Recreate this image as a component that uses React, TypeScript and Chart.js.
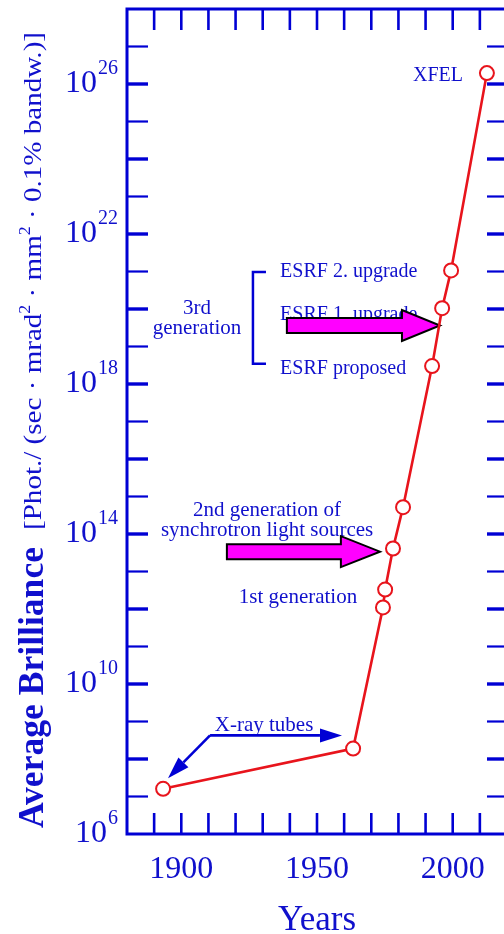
import React, { useEffect, useRef } from 'react';
import { Chart, registerables } from 'chart.js';

Chart.register(...registerables);

// ---- data ----
const years = [1893.3, 1963.3, 1974.3, 1975.1, 1978.0, 1981.7, 1992.4, 1996.1, 1999.4, 2012.6];
const brilliance = [1.6e7, 1.9e8, 1.1e12, 3.3e12, 4.1e13, 5.2e14, 3.0e18, 1.05e20, 1.07e21, 1.95e26];

const xTickYears = [1890, 1900, 1910, 1920, 1930, 1940, 1950, 1960, 1970, 1980, 1990, 2000, 2010];
const xLabelYears = [1900, 1950, 2000];
const yTickExps = [7, 8, 9, 10, 11, 12, 13, 14, 15, 16, 17, 18, 19, 20, 21, 22, 23, 24, 25, 26, 27];
const yLabelExps = [6, 10, 14, 18, 22, 26];

// annotation texts, anchored in data coordinates (year, log10 brilliance)
const noteTexts = [
  { t: 'XFEL', yr: 2003.8, e: 26.09, align: 'right', fs: 20 },
  { t: 'ESRF 2. upgrade', yr: 1936.4, e: 20.85, align: 'left', fs: 20 },
  { t: 'ESRF 1. upgrade', yr: 1936.4, e: 19.71, align: 'left', fs: 20 },
  { t: 'ESRF proposed', yr: 1936.4, e: 18.28, align: 'left', fs: 20 },
  { t: '3rd', yr: 1905.8, e: 19.87, align: 'center', fs: 21 },
  { t: 'generation', yr: 1905.8, e: 19.34, align: 'center', fs: 21 },
  { t: '2nd generation of', yr: 1931.6, e: 14.48, align: 'center', fs: 21 },
  { t: 'synchrotron light sources', yr: 1931.6, e: 13.94, align: 'center', fs: 21 },
  { t: '1st generation', yr: 1943.0, e: 12.16, align: 'center', fs: 21 },
  { t: 'X-ray tubes', yr: 1930.5, e: 8.76, align: 'center', fs: 21 },
];
const magentaArrows = [
  { from: 1938.9, base: 1981.3, tip: 1995.3, e: 19.56 },
  { from: 1916.8, base: 1958.8, tip: 1973.2, e: 13.53 },
];
const blueArrows = [
  { from: [1910.6, 8.63], to: [1959.2, 8.63] },
  { from: [1910.6, 8.63], to: [1895.1, 7.49] },
];
const bracket = { yr: 1926.4, yrEnd: 1931.2, eTop: 20.99, eBottom: 18.54 };

const BLUE = '#0000d4';
const TEXT_BLUE = '#1010cc';
const RED = '#e8141c';
const SERIF = '"Liberation Serif", "Times New Roman", serif';

type Seg = { t: string; sup?: boolean };

function segFont(fs: number, weight: string, sup?: boolean) {
  return `${weight} ${sup ? Math.round(fs * 0.62) : fs}px ${SERIF}`;
}

function drawRotatedRich(ctx: CanvasRenderingContext2D, segs: Seg[], bx: number, by: number, fs: number, weight: string, targetLen: number) {
  let w = 0;
  for (const s of segs) {
    ctx.font = segFont(fs, weight, s.sup);
    w += ctx.measureText(s.t).width;
  }
  ctx.save();
  ctx.translate(bx, by);
  ctx.rotate(-Math.PI / 2);
  ctx.scale(targetLen / w, 1);
  ctx.textAlign = 'left';
  ctx.textBaseline = 'alphabetic';
  let cx = 0;
  for (const s of segs) {
    ctx.font = segFont(fs, weight, s.sup);
    ctx.fillText(s.t, cx, s.sup ? -fs * 0.42 : 0);
    cx += ctx.measureText(s.t).width;
  }
  ctx.restore();
}

const decor = {
  id: 'decor',
  beforeDatasetsDraw(chart: any) {
    const ctx: CanvasRenderingContext2D = chart.ctx;
    const xs = chart.scales.x;
    const ys = chart.scales.y;
    const ca = chart.chartArea;
    const X = (v: number) => xs.getPixelForValue(v);
    const Y = (e: number) => ys.getPixelForValue(Math.pow(10, e));
    const line = (x1: number, y1: number, x2: number, y2: number) => {
      ctx.beginPath();
      ctx.moveTo(x1, y1);
      ctx.lineTo(x2, y2);
      ctx.stroke();
    };

    ctx.save();
    ctx.strokeStyle = BLUE;
    ctx.lineCap = 'butt';

    // frame
    ctx.lineWidth = 3;
    ctx.strokeRect(ca.left, ca.top, ca.right - ca.left, ca.bottom - ca.top);

    // x ticks (inward, top & bottom)
    ctx.lineWidth = 2.6;
    for (const yr of xTickYears) {
      const px = X(yr);
      line(px, ca.bottom, px, ca.bottom - 21);
      line(px, ca.top, px, ca.top + 21);
    }
    // y ticks (inward, left & right)
    for (const e of yTickExps) {
      const py = Y(e);
      ctx.lineWidth = e % 2 === 0 ? 3.4 : 2.2;
      line(ca.left, py, ca.left + 21, py);
      line(ca.right, py, ca.right - 20, py);
    }

    // tick labels
    ctx.fillStyle = TEXT_BLUE;
    ctx.textBaseline = 'alphabetic';
    ctx.textAlign = 'center';
    ctx.font = `32px ${SERIF}`;
    for (const yr of xLabelYears) {
      ctx.fillText(String(yr), X(yr), ca.bottom + 44);
    }
    ctx.textAlign = 'left';
    for (const e of yLabelExps) {
      const py = Y(e);
      ctx.font = `20px ${SERIF}`;
      const w2 = ctx.measureText(String(e)).width;
      ctx.font = `32px ${SERIF}`;
      const w1 = ctx.measureText('10').width;
      const right = ca.left - 9;
      ctx.fillText('10', right - w2 - w1 - 1, py + 8);
      ctx.font = `20px ${SERIF}`;
      ctx.fillText(String(e), right - w2, py - 10);
    }

    // axis titles
    ctx.textAlign = 'center';
    ctx.font = `35px ${SERIF}`;
    ctx.fillText('Years', X(1950), ca.bottom + 96);

    drawRotatedRich(ctx, [{ t: 'Average Brilliance' }], 43, 828, 35, 'bold', 281);
    drawRotatedRich(
      ctx,
      [
        { t: '[Phot./ (sec \u00b7 mrad' },
        { t: '2', sup: true },
        { t: ' \u00b7 mm' },
        { t: '2', sup: true },
        { t: ' \u00b7 0.1% bandw.)]' },
      ],
      41,
      530,
      26,
      'normal',
      498
    );

    // annotation texts
    for (const n of noteTexts) {
      ctx.font = `${n.fs}px ${SERIF}`;
      ctx.textAlign = n.align as CanvasTextAlign;
      ctx.fillText(n.t, X(n.yr), Y(n.e));
    }

    // bracket for 3rd generation
    ctx.strokeStyle = BLUE;
    ctx.lineWidth = 2.5;
    ctx.beginPath();
    ctx.moveTo(X(bracket.yrEnd), Y(bracket.eTop));
    ctx.lineTo(X(bracket.yr), Y(bracket.eTop));
    ctx.lineTo(X(bracket.yr), Y(bracket.eBottom));
    ctx.lineTo(X(bracket.yrEnd), Y(bracket.eBottom));
    ctx.stroke();

    // blue arrows (X-ray tubes)
    ctx.fillStyle = BLUE;
    for (const a of blueArrows) {
      const x1 = X(a.from[0]);
      const y1 = Y(a.from[1]);
      const x2 = X(a.to[0]);
      const y2 = Y(a.to[1]);
      const ang = Math.atan2(y2 - y1, x2 - x1);
      const hl = 22;
      const hw = 7;
      const bxp = x2 - hl * Math.cos(ang);
      const byp = y2 - hl * Math.sin(ang);
      ctx.lineWidth = 2.6;
      line(x1, y1, bxp, byp);
      ctx.beginPath();
      ctx.moveTo(x2, y2);
      ctx.lineTo(bxp + hw * Math.sin(ang), byp - hw * Math.cos(ang));
      ctx.lineTo(bxp - hw * Math.sin(ang), byp + hw * Math.cos(ang));
      ctx.closePath();
      ctx.fill();
    }

    // magenta block arrows
    for (const m of magentaArrows) {
      const x0 = X(m.from);
      const xb = X(m.base);
      const xt = X(m.tip);
      const yc = Y(m.e);
      ctx.beginPath();
      ctx.moveTo(x0, yc - 7.5);
      ctx.lineTo(xb, yc - 7.5);
      ctx.lineTo(xb, yc - 15.5);
      ctx.lineTo(xt, yc);
      ctx.lineTo(xb, yc + 15.5);
      ctx.lineTo(xb, yc + 7.5);
      ctx.lineTo(x0, yc + 7.5);
      ctx.closePath();
      ctx.fillStyle = '#ff00ff';
      ctx.fill();
      ctx.strokeStyle = '#000000';
      ctx.lineWidth = 2;
      ctx.lineJoin = 'miter';
      ctx.stroke();
    }

    ctx.restore();
  },
};

export default function App() {
  const ref = useRef<HTMLCanvasElement | null>(null);

  useEffect(() => {
    if (!ref.current) return;
    const chart = new Chart(ref.current, {
      type: 'line',
      data: {
        datasets: [
          {
            data: years.map((x, i) => ({ x, y: brilliance[i] })),
            borderColor: RED,
            borderWidth: 2.6,
            pointRadius: 7,
            pointBorderWidth: 2,
            pointBackgroundColor: '#ffffff',
            pointBorderColor: RED,
            tension: 0,
            clip: false,
          } as any,
        ],
      },
      options: {
        animation: false,
        responsive: false,
        devicePixelRatio: 1,
        events: [],
        layout: { padding: { left: 127, top: 6, right: 13, bottom: 100 } },
        plugins: { legend: { display: false }, tooltip: { enabled: false } },
        scales: {
          x: { type: 'linear', min: 1880, max: 2020, display: false },
          y: { type: 'logarithmic', min: 1e6, max: 1e28, display: false },
        },
      },
      plugins: [decor],
    });
    return () => chart.destroy();
  }, []);

  return (
    <div style={{ position: 'absolute', left: 0, top: 0, width: 504, height: 934, overflow: 'hidden', background: '#fff' }}>
      <canvas ref={ref} width={520} height={934} style={{ width: 520, height: 934, display: 'block' }} />
    </div>
  );
}
